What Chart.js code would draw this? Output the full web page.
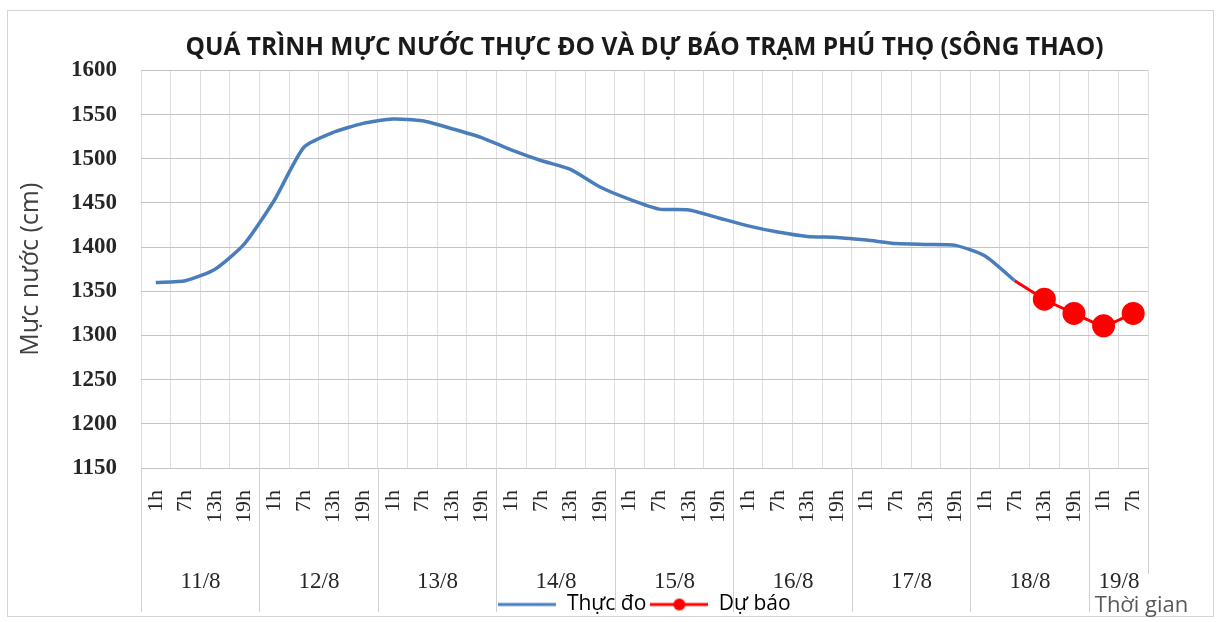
<!DOCTYPE html>
<html><head><meta charset="utf-8">
<script src="https://cdn.jsdelivr.net/npm/chart.js@4/dist/chart.umd.min.js"></script>
<style>html,body{margin:0;padding:0;background:#fff;}#wrap{width:1219px;height:622px;}</style>
</head><body><div id="wrap"><canvas id="c" width="1219" height="622"></canvas></div>
<script>
const hourLabels = ['1h','7h','13h','19h','1h','7h','13h','19h','1h','7h','13h','19h','1h','7h','13h','19h',
  '1h','7h','13h','19h','1h','7h','13h','19h','1h','7h','13h','19h','1h','7h','13h','19h','1h','7h'];
const dayLabels = ['11/8','12/8','13/8','14/8','15/8','16/8','17/8','18/8','19/8'];
const daySpans = [4,4,4,4,4,4,4,4,2];
const observed = [1360,1362,1375,1404,1453,1513,1530,1540,1545,1543,1534,1524,1510,1498,1488,1468,
  1454,1443,1442,1433,1424,1417,1412,1411,1408,1404,1403,1402,1390,1362];
const forecastStartIndex = 29;
const forecast = [1362,1341,1325,1311,1325];
const yMin = 1150, yMax = 1600, yStep = 50;

const forecastSeries = hourLabels.map((_, i) => i >= forecastStartIndex ? forecast[i - forecastStartIndex] : null);

function makeIcon(color, withDot){
  const cv = document.createElement('canvas');
  cv.width = 58; cv.height = 16;
  const g = cv.getContext('2d');
  g.strokeStyle = color; g.lineWidth = 3;
  g.beginPath(); g.moveTo(0, 8); g.lineTo(58, 8); g.stroke();
  if (withDot){ g.fillStyle = color; g.beginPath(); g.arc(29, 8, 6, 0, Math.PI*2); g.fill(); }
  return cv;
}
const icons = [makeIcon('#4A7EBB', false), makeIcon('#FF0000', true)];

const framePlugin = {
  id: 'frame',
  beforeDraw(chart){
    const ctx = chart.ctx;
    ctx.save();
    ctx.fillStyle = '#fff'; ctx.fillRect(0,0,chart.width,chart.height);
    ctx.strokeStyle = '#d4d4d4'; ctx.lineWidth = 1;
    ctx.strokeRect(7.5, 10.5, 1206, 606);
    ctx.restore();
  }
};

const dayPlugin = {
  id: 'dayGroups',
  afterDraw(chart){
    const ctx = chart.ctx, xs = chart.scales.x, area = chart.chartArea;
    ctx.save();
    ctx.strokeStyle = '#d0d0d0'; ctx.lineWidth = 1;
    let s = 0;
    ctx.font = '23px "Liberation Serif"';
    ctx.fillStyle = '#262626';
    ctx.textAlign = 'center'; ctx.textBaseline = 'middle';
    daySpans.forEach((n, k) => {
      const x0 = Math.round(xs.getPixelForValue(s - 0.5)) + 0.5;
      const x1 = Math.round(xs.getPixelForValue(s + n - 0.5)) + 0.5;
      ctx.beginPath(); ctx.moveTo(x0, area.bottom); ctx.lineTo(x0, 612); ctx.stroke();
      if (k === daySpans.length - 1){ ctx.beginPath(); ctx.moveTo(x1, area.bottom); ctx.lineTo(x1, 574); ctx.stroke(); }
      ctx.fillText(dayLabels[k], (x0 + x1) / 2, 582);
      s += n;
    });
    ctx.font = '22px "Open Sans"';
    ctx.fillStyle = '#595959';
    ctx.textAlign = 'left';
    const lastStart = xs.getPixelForValue(s - daySpans[daySpans.length-1] - 0.5);
    ctx.fillText('Thời gian', lastStart + 6, 606);
    ctx.restore();
  }
};

new Chart(document.getElementById('c'), {
  type: 'line',
  data: {
    labels: hourLabels,
    datasets: [
      { label: 'Thực đo', data: observed, borderColor: '#4A7EBB', backgroundColor: '#4A7EBB',
        borderWidth: 3.5, pointRadius: 0, tension: 0.2, fill: false },
      { label: 'Dự báo', data: forecastSeries, borderColor: '#FF0000', backgroundColor: '#FF0000',
        borderWidth: 3, tension: 0.15, fill: false,
        pointRadius: c => c.dataIndex > forecastStartIndex ? 10 : 0,
        pointBackgroundColor: '#FF0000', pointBorderColor: '#FF0000' }
    ]
  },
  options: {
    responsive: false, animation: false, devicePixelRatio: 1,
    layout: { padding: { left: 10, right: 71, top: 0, bottom: -3 } },
    plugins: {
      title: { display: true, fullSize: false, text: 'QUÁ TRÌNH MỰC NƯỚC THỰC ĐO VÀ DỰ BÁO TRẠM PHÚ THỌ (SÔNG THAO)',
        font: { family: '"Open Sans"', weight: 'bold', size: 24.5 }, color: '#1a1a1a',
        padding: { top: 33, bottom: 8 } },
      legend: { position: 'bottom', fullSize: false,
        labels: { usePointStyle: true, pointStyleWidth: 58, padding: 4, color: '#000',
          font: { family: '"Open Sans"', size: 21 },
          generateLabels: (chart) => chart.data.datasets.map((ds, i) => ({
            text: ds.label, pointStyle: icons[i], fillStyle: 'rgba(0,0,0,0)', strokeStyle: 'rgba(0,0,0,0)',
            lineWidth: 0, hidden: false, datasetIndex: i, fontColor: '#000' })) } },
      tooltip: { enabled: false }
    },
    scales: {
      x: {
        type: 'category', offset: true,
        grid: { offset: true, color: '#dedede', drawTicks: false },
        border: { display: false },
        ticks: { autoSkip: false, minRotation: 90, maxRotation: 90, padding: 22,
          font: { family: '"Liberation Serif"', size: 22 }, color: '#262626' },
        afterFit: (sc) => { sc.height = 122; }
      },
      y: {
        min: yMin, max: yMax,
        grid: { color: '#c4c4c4', drawTicks: false },
        border: { display: false },
        ticks: { stepSize: yStep, padding: 24, callback: (v) => String(v),
          font: { family: '"Liberation Serif"', weight: 'bold', size: 23 }, color: '#262626' },
        title: { display: true, text: 'Mực nước (cm)', font: { family: '"Open Sans"', size: 25 }, color: '#404040',
          padding: { top: 6, bottom: 0 } },
        afterFit: (sc) => { sc.width = 131; }
      }
    }
  },
  plugins: [framePlugin, dayPlugin]
});
</script></body></html>
